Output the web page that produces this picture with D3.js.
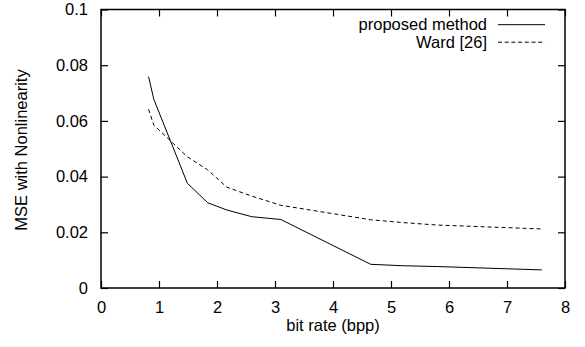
<!DOCTYPE html>
<html>
<head>
<meta charset="utf-8">
<script src="https://cdn.jsdelivr.net/npm/d3@7"></script>
<style>
  body { margin: 0; background: #fff; }
  svg text { font-family: "Liberation Sans", Arial, sans-serif; fill: #000; }
</style>
</head>
<body>
<div id="chart"></div>
<script>
const bitRates = [0.82, 0.91, 1.49, 1.84, 2.17, 2.6, 3.1, 4.65, 5.2, 5.8, 7.6];
const proposed = [0.0759, 0.0678, 0.0376, 0.0306, 0.0280, 0.0256, 0.0246, 0.0085, 0.0080, 0.0077, 0.0065];
const ward = [0.0642, 0.0585, 0.0471, 0.0424, 0.0362, 0.0330, 0.0297, 0.0245, 0.0235, 0.0226, 0.0212];
const xTicks = [0, 1, 2, 3, 4, 5, 6, 7, 8];
const yTicks = [0, 0.02, 0.04, 0.06, 0.08, 0.1];
const seriesNames = ['proposed method', 'Ward [26]'];

const width = 585, height = 347;
const margin = {top: 9.5, right: 20, bottom: 59, left: 101};
const w = width - margin.left - margin.right;
const h = height - margin.top - margin.bottom;
const fontSize = '16.5px';

const svg = d3.select('#chart').append('svg')
  .attr('width', width)
  .attr('height', height);

const g = svg.append('g')
  .attr('transform', `translate(${margin.left},${margin.top})`);

const x = d3.scaleLinear().domain([0, 8]).range([0, w]);
const y = d3.scaleLinear().domain([0, 0.1]).range([h, 0]);

const fmtY = d => d === 0 ? '0' : String(+d.toFixed(2));

// axes with inward ticks, mirrored on top/right
const styleAxis = sel => {
  sel.select('.domain').remove();
  sel.selectAll('line').attr('stroke', '#000').attr('stroke-width', 1.2);
  sel.selectAll('text').style('font-size', fontSize);
};

g.append('g')
  .attr('transform', `translate(0,${h})`)
  .call(d3.axisBottom(x).tickValues(xTicks).tickFormat(d3.format('d')).tickSizeInner(-7).tickPadding(13))
  .call(styleAxis);

g.append('g')
  .call(d3.axisTop(x).tickValues(xTicks).tickFormat('').tickSizeInner(-7))
  .call(styleAxis);

g.append('g')
  .call(d3.axisLeft(y).tickValues(yTicks).tickFormat(fmtY).tickSizeInner(-7).tickPadding(13))
  .call(styleAxis);

g.append('g')
  .attr('transform', `translate(${w},0)`)
  .call(d3.axisRight(y).tickValues(yTicks).tickFormat('').tickSizeInner(-7))
  .call(styleAxis);

// frame
g.append('rect')
  .attr('width', w)
  .attr('height', h)
  .attr('fill', 'none')
  .attr('stroke', '#000')
  .attr('stroke-width', 1.5);

const line = d3.line()
  .x(d => x(d[0]))
  .y(d => y(d[1]));

g.append('path')
  .datum(d3.zip(bitRates, proposed))
  .attr('d', line)
  .attr('fill', 'none')
  .attr('stroke', '#000')
  .attr('stroke-width', 1);

g.append('path')
  .datum(d3.zip(bitRates, ward))
  .attr('d', line)
  .attr('fill', 'none')
  .attr('stroke', '#000')
  .attr('stroke-width', 1)
  .attr('stroke-dasharray', '4,3');

// legend
const legend = svg.append('g');
seriesNames.forEach((name, i) => {
  const ly = 24.7 + i * 17.5;
  legend.append('text')
    .attr('x', 487)
    .attr('y', ly)
    .attr('dy', '0.35em')
    .attr('text-anchor', 'end')
    .style('font-size', fontSize)
    .text(name);
  legend.append('line')
    .attr('x1', 498).attr('x2', 545)
    .attr('y1', ly).attr('y2', ly)
    .attr('stroke', '#000')
    .attr('stroke-width', 1)
    .attr('stroke-dasharray', i === 1 ? '4,2.7' : null);
});

// axis titles
svg.append('text')
  .attr('x', margin.left + w / 2)
  .attr('y', 331)
  .attr('text-anchor', 'middle')
  .style('font-size', fontSize)
  .text('bit rate (bpp)');

svg.append('text')
  .attr('transform', 'translate(21,150) rotate(-90)')
  .attr('dy', '0.35em')
  .attr('text-anchor', 'middle')
  .style('font-size', fontSize)
  .text('MSE with Nonlinearity');
</script>
</body>
</html>
